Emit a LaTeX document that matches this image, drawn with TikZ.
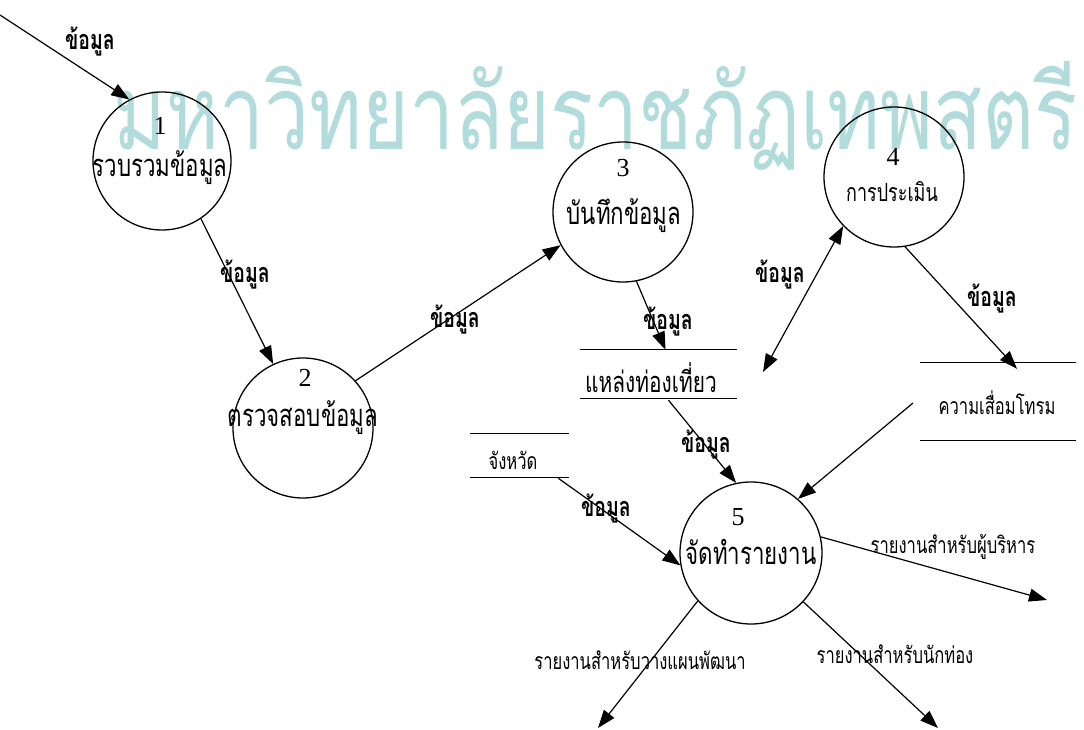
\documentclass[tikz,border=0pt]{standalone}
\usepackage{fontspec}
\setmainfont{Liberation Serif}
\newfontfamily\thaifont[Script=Thai,FakeStretch=0.72]{Loma}
\newfontfamily\wmfont[Script=Thai]{Loma}
\usetikzlibrary{arrows.meta,calc}
\definecolor{wm}{HTML}{B2DCDC}
\begin{document}
\begin{tikzpicture}[x=1pt,y=-1pt,
  proc/.style={circle,draw,line width=1.3pt,minimum size=140pt,inner sep=0pt},
  flow/.style={line width=1.2pt,-{Triangle[length=18pt,width=13pt]}},
  biflow/.style={line width=1.2pt,{Triangle[length=18pt,width=13pt]}-{Triangle[length=18pt,width=13pt]}},
  lbl/.style={font=\thaifont\bfseries\fontsize{27}{30}\selectfont,inner sep=0pt},
  olbl/.style={font=\thaifont\fontsize{23}{26}\selectfont,inner sep=0pt},
  num/.style={font=\fontsize{26}{28}\selectfont,inner sep=0pt},
  pname/.style={font=\thaifont\fontsize{31}{34}\selectfont,inner sep=0pt},
  store/.style={inner sep=0pt},
  storeline/.style={line width=1.2pt}]
\useasboundingbox (0,0) rectangle (1084,730);
\fill[white] (0,0) rectangle (1084,730);
% watermark
\node[anchor=base west,inner sep=0pt,text=wm] (wm) at (113,150)
  {\resizebox{964pt}{88pt}{\wmfont มหาวิทยาลัยราชภัฏเทพสตรี}};
% processes
\node[proc,minimum size=138pt] (p1) at (162,161) {};
\node[proc] (p2) at (303,428) {};
\node[proc] (p3) at (623,212) {};
\node[proc] (p4) at (894,177) {};
\node[proc,minimum size=142pt] (p5) at (751,553) {};
\node[num] (n1) at (160,126) {1};
\node[pname] (t1) at (160,168) {รวบรวมข้อมูล};
\node[num] (n2) at (305,378) {2};
\node[pname] (t2) at (303,418) {ตรวจสอบข้อมูล};
\node[num] (n3) at (623,168) {3};
\node[pname] (t3) at (624,216) {บันทึกข้อมูล};
\node[num] (n4) at (893,157) {4};
\node[pname,font=\thaifont\fontsize{25}{28}\selectfont] (t4) at (892,192) {การประเมิน};
\node[num] (n5) at (738,517) {5};
\node[pname] (t5) at (751,552) {จัดทำรายงาน};
% data stores
\node[store,minimum width=157pt,minimum height=48pt] (s1) at (658.5,374) {};
\draw[storeline] (s1.north west) -- (s1.north east) (s1.south west) -- (s1.south east);
\node[pname,font=\thaifont\fontsize{29}{32}\selectfont] (s1t) at (651,378) {แหล่งท่องเที่ยว};
\node[store,minimum width=99pt,minimum height=43pt] (s2) at (519.5,455.5) {};
\draw[storeline] (s2.north west) -- (s2.north east) (s2.south west) -- (s2.south east);
\node[olbl] (s2t) at (513,460) {จังหวัด};
\node[store,minimum width=155pt,minimum height=77pt] (s3) at (998,401.5) {};
\draw[storeline] (s3.north west) -- (s3.north east) (s3.south west) -- (s3.south east);
\node[olbl] (s3t) at (997,403) {ความเสื่อมโทรม};
% free ends
\coordinate (in1) at (0,15);
\coordinate (e5) at (763,372);
\coordinate (s9) at (913,403);
\coordinate (o1) at (1047,600);
\coordinate (o2) at (598,728);
\coordinate (o3) at (938,728);
% flows
\draw[flow] (in1) -- (p1.118);
\node[lbl] (l1) at (90,42) {ข้อมูล};
\draw[flow] (p1.-56) -- (p2.115);
\node[lbl] (l2) at (245,275) {ข้อมูล};
\draw[flow] (p2.42) -- (p3.208);
\node[lbl] (l3) at (455,320) {ข้อมูล};
\draw[flow] (p3.-79) -- ($(s1.north)+(7,0)$);
\node[lbl] (l4) at (668,322) {ข้อมูล};
\draw[biflow] (p4.224) -- (e5);
\node[lbl] (l5) at (780,275) {ข้อมูล};
\draw[flow] (p4.-81) -- ($(s3.north)+(19,6)$);
\node[lbl] (l6) at (992,299) {ข้อมูล};
\draw[flow] ($(s1.south)+(10,2)$) -- (p5.102);
\node[lbl] (l7) at (706,445) {ข้อมูล};
\draw[flow] ($(s2.south east)+(-11,1)$) -- (p5.190);
\node[lbl] (l8) at (606,509) {ข้อมูล};
\draw[flow] (s9) -- (p5.49);
\draw[flow] (p5.13) -- (o1);
\node[olbl] (l10) at (953,547) {รายงานสำหรับผู้บริหาร};
\draw[flow] (p5.222) -- (o2);
\node[olbl] (l11) at (640,660) {รายงานสำหรับวางแผนพัฒนา};
\draw[flow] (p5.-43) -- (o3);
\node[olbl] (l12) at (895,654) {รายงานสำหรับนักท่อง};
\end{tikzpicture}
\end{document}
